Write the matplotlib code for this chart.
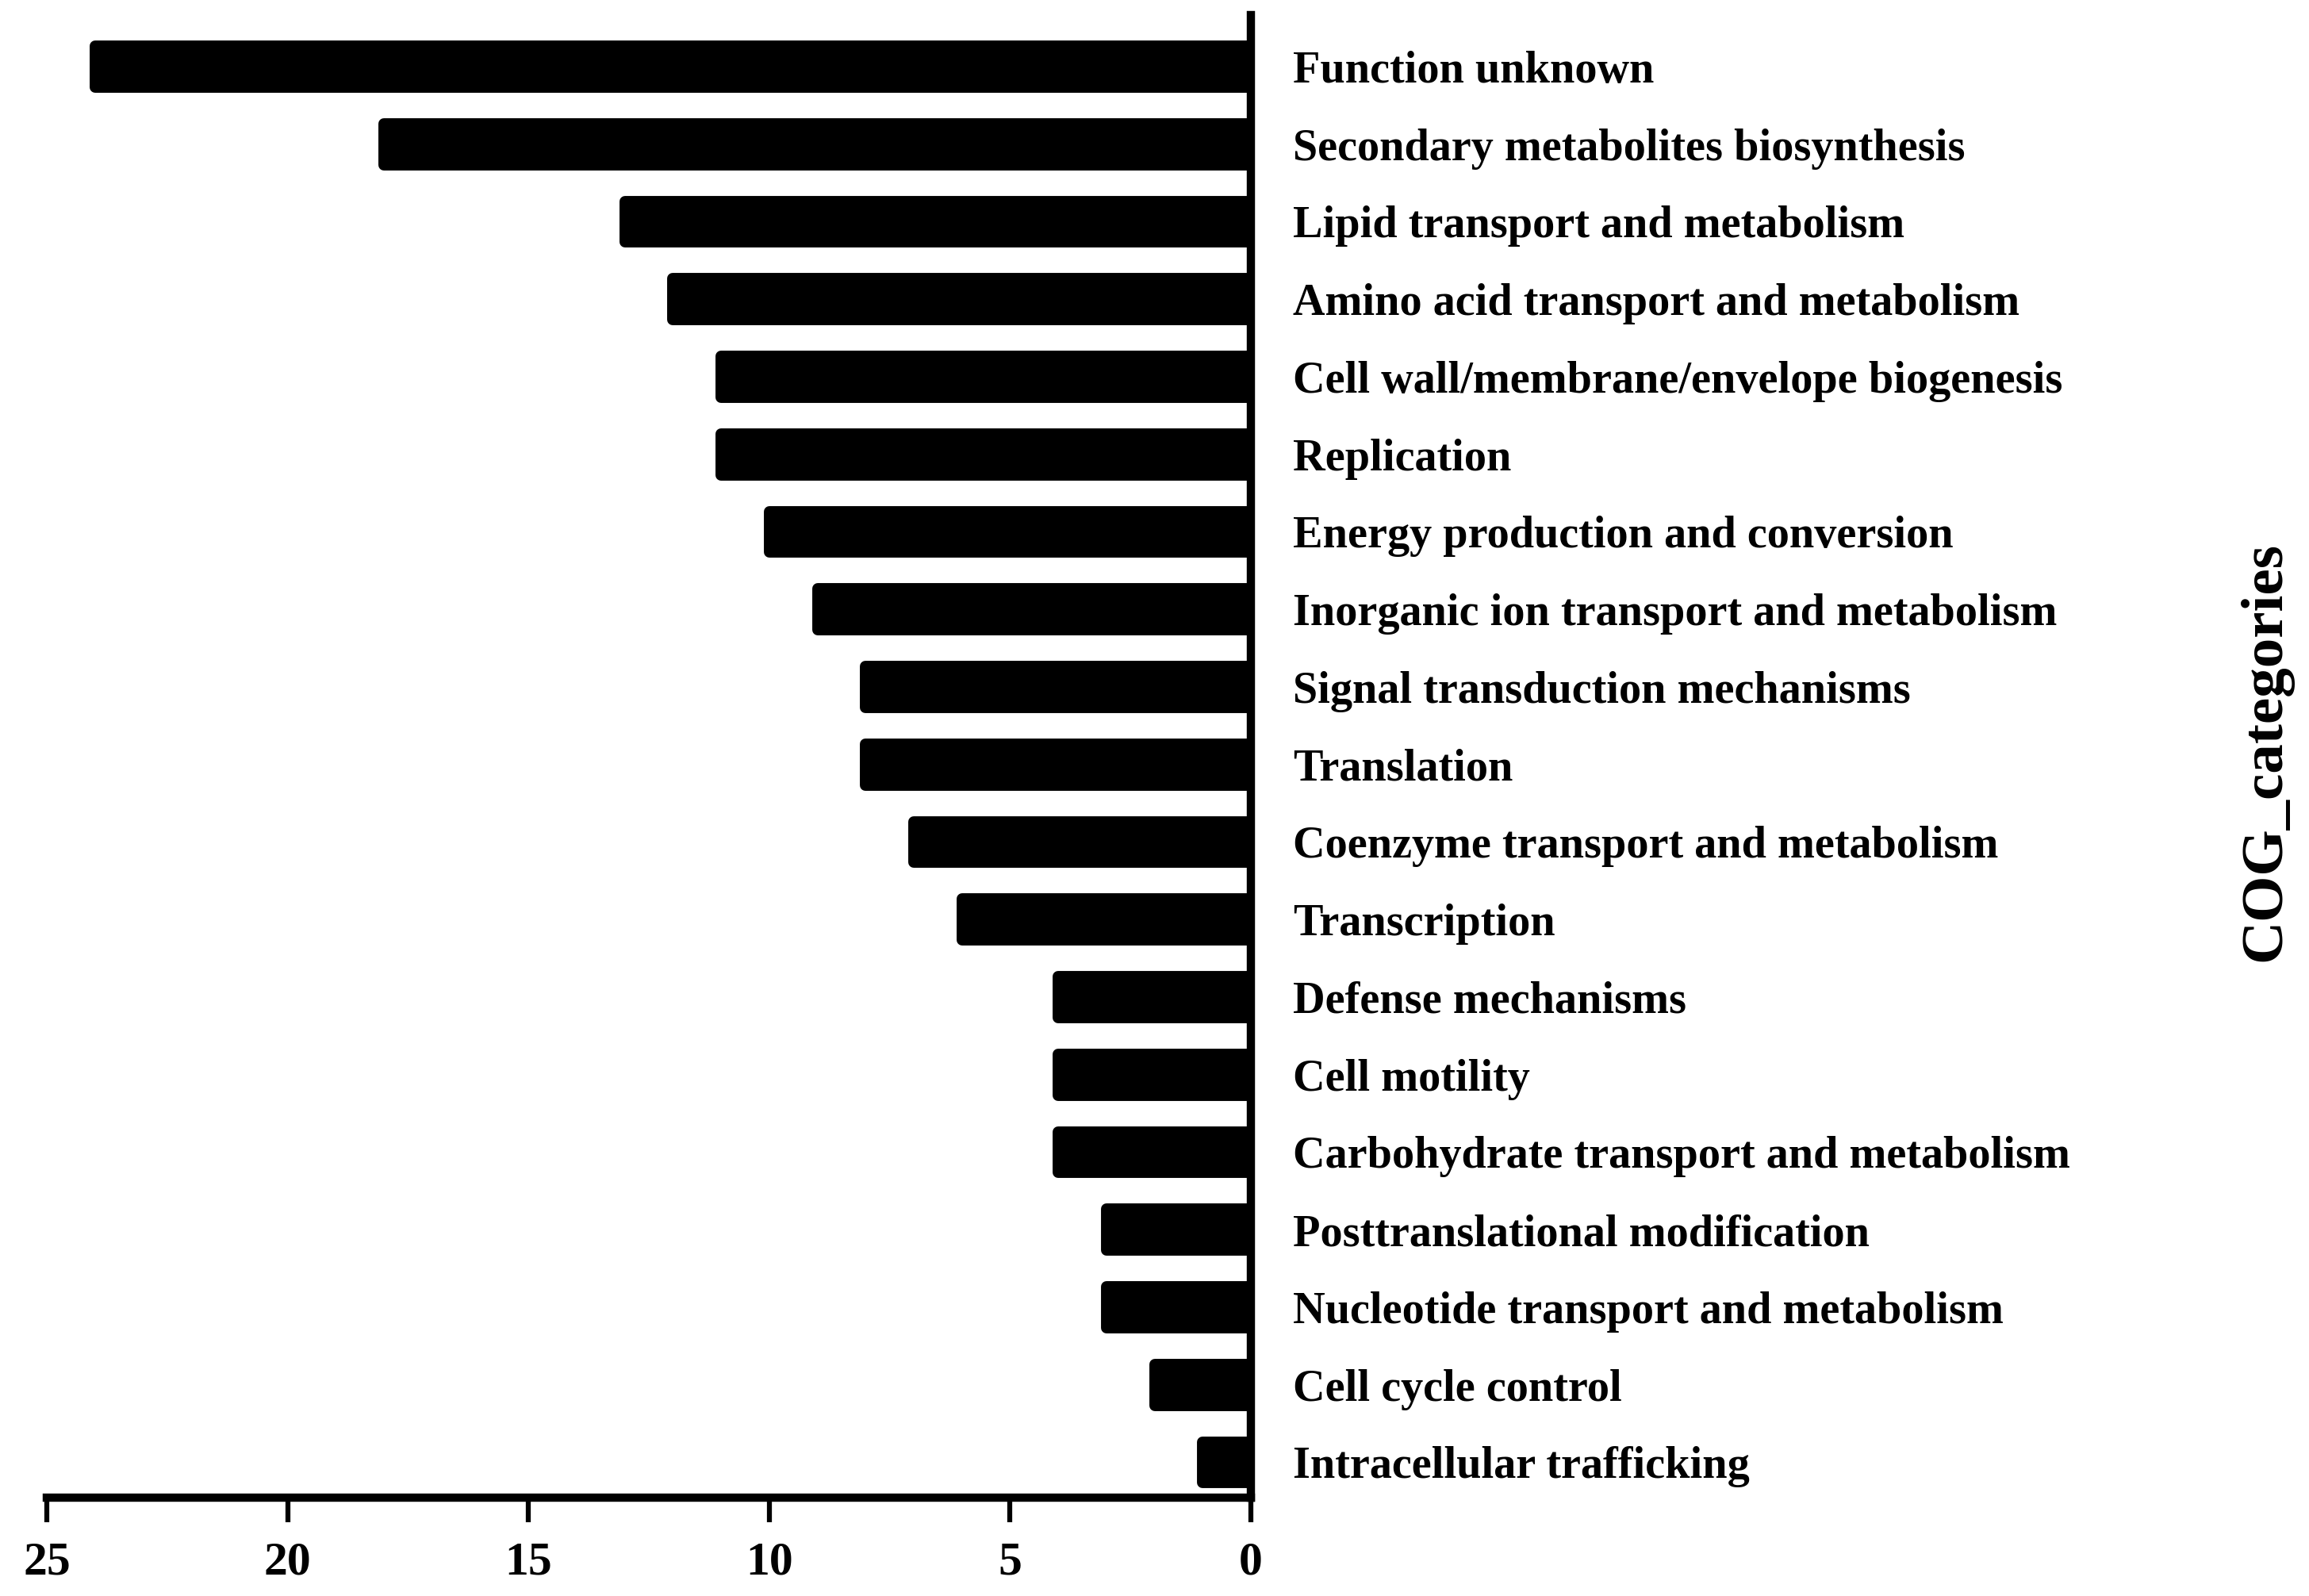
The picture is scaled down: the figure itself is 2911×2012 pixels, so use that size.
import numpy as np
import matplotlib
matplotlib.use("Agg")
import matplotlib.pyplot as plt

# COG category counts, top to bottom as in the figure
categories = [
    "Function unknown",
    "Secondary metabolites biosynthesis",
    "Lipid transport and metabolism",
    "Amino acid transport and metabolism",
    "Cell wall/membrane/envelope biogenesis",
    "Replication",
    "Energy production and conversion",
    "Inorganic ion transport and metabolism",
    "Signal transduction mechanisms",
    "Translation",
    "Coenzyme transport and metabolism",
    "Transcription",
    "Defense mechanisms",
    "Cell motility",
    "Carbohydrate transport and metabolism",
    "Posttranslational modification",
    "Nucleotide transport and metabolism",
    "Cell cycle control",
    "Intracellular trafficking",
]
counts = [24, 18, 13, 12, 11, 11, 10, 9, 8, 8, 7, 6, 4, 4, 4, 3, 3, 2, 1]
x_ticks = [25, 20, 15, 10, 5, 0]

plt.rcParams['font.family'] = ['Liberation Serif', 'DejaVu Serif']
plt.rcParams['font.weight'] = 'bold'

fig = plt.figure(figsize=(29.11, 20.12), dpi=100)
ax = fig.add_axes([59 / 2911, 1 - 1888 / 2012,
                   (1577 - 59) / 2911, (1888 - 19) / 2012])

n = len(categories)
ypos = np.arange(n)[::-1]

ax.barh(ypos, counts, height=0.53, color='k', edgecolor='k',
        linewidth=10, joinstyle='round')

ax.set_xlim(25, 0)
ax.set_ylim(-0.456, n - 1 + 0.665)

ax.set_xticks(x_ticks)
ax.set_xticklabels([str(t) for t in x_ticks])
ax.set_yticks(ypos)
ax.set_yticklabels(categories)

ax.yaxis.tick_right()
ax.spines['left'].set_visible(False)
ax.spines['top'].set_visible(False)
ax.spines['right'].set_linewidth(7.5)
ax.spines['bottom'].set_linewidth(7.5)

ax.tick_params(axis='x', direction='out', length=22, width=4.5,
               pad=18, labelsize=43)
ax.tick_params(axis='y', length=0, pad=38, labelsize=40.5)

ax.yaxis.set_label_position('right')
ax.set_ylabel("COG_categories", fontsize=54, fontweight='bold',
              rotation=90, va='center', ha='center')
ax.yaxis.set_label_coords(1.8426, 0.503)

fig.savefig("out.png", dpi=100)
